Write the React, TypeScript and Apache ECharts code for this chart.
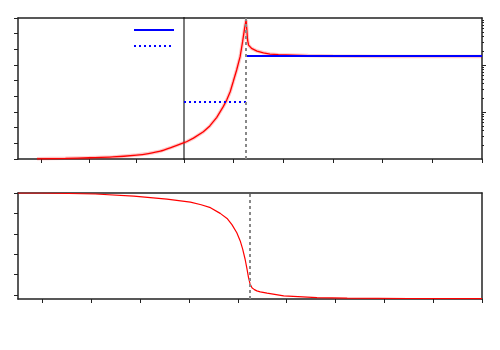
import React, { useEffect, useRef } from "react";
import * as echarts from "echarts";

// Top panel, before t = 0 (left scale)
const preT = [-3.1, -2.5, -2.0, -1.5, -1.0, -0.75, -0.5, -0.25, 0];
const preV = [0.01, 0.04, 0.08, 0.13, 0.25, 0.35, 0.5, 0.76, 1.04];
// Top panel, after t = 0 (right scale)
const postT = [0, 0.05, 0.19, 0.39, 0.52, 0.66, 0.79, 0.86, 0.93, 0.99, 1.06, 1.13, 1.18, 1.22, 1.25, 1.28, 1.3, 1.36, 1.47, 1.6, 1.73, 1.9, 2.5, 3, 4, 5, 6];
const postV = [1.04, 1.1, 1.33, 1.74, 2.11, 2.66, 3.34, 3.76, 4.29, 4.93, 5.68, 6.53, 7.49, 8.34, 8.87, 7.6, 7.27, 7.06, 6.89, 6.78, 6.7, 6.66, 6.6, 6.57, 6.55, 6.55, 6.55];
const peakT = 1.25;
const dottedLevel = 3.64;
const solidLevel = 6.57;
const topLeftTicks = [-3, -2, -1];
const topRightTicks = [0, 1, 2, 3, 4, 5, 6];
const topYTicks = [0, 1, 2, 3, 4, 5, 6, 7, 8, 9];
const logMajorTicks = [1, 10];
const logMinorTicks = [0.2, 0.3, 0.4, 0.5, 0.6, 0.7, 0.8, 0.9, 2, 3, 4, 5, 6, 7, 8, 9, 20, 30, 40, 50, 60, 70, 80, 90];

// Bottom panel
const botX = [0.5, 1.0, 2.08, 2.87, 3.55, 4.03, 4.25, 4.44, 4.64, 4.78, 4.88, 4.98, 5.05, 5.1, 5.15, 5.19, 5.22, 5.25, 5.29, 5.34, 5.39, 5.46, 5.6, 5.94, 6.62, 7.24, 8.5, 10];
const botV = [1.0, 1.0, 0.99, 0.97, 0.94, 0.91, 0.885, 0.856, 0.8, 0.75, 0.69, 0.61, 0.53, 0.45, 0.35, 0.25, 0.17, 0.11, 0.07, 0.052, 0.04, 0.03, 0.017, -0.01, -0.026, -0.032, -0.035, -0.036];
const botDash = 5.25;
const botXTicks = [1, 2, 3, 4, 5, 6, 7, 8, 9, 10];
const botYTicks = [0, 0.2, 0.4, 0.6, 0.8, 1.0];

const AX = "#222";
const pair = (xs: number[], ys: number[]) => xs.map((x, i) => [x, ys[i]]);

function lineAxis(extra: any) {
  return {
    type: "value",
    axisLine: { show: true, onZero: false, lineStyle: { color: AX, width: 1.5 } },
    axisTick: { show: false },
    axisLabel: { show: false },
    splitLine: { show: false },
    ...extra,
  };
}

export default function App() {
  const ref = useRef<HTMLDivElement>(null);
  useEffect(() => {
    if (!ref.current) return;
    const chart = echarts.init(ref.current, undefined, { renderer: "svg" });
    const tick = (vals: number[], len = 4) => ({ show: true, customValues: vals, length: len, lineStyle: { color: AX, width: 1 } });
    const option: any = {
      animation: false,
      backgroundColor: "#fff",
      grid: [
        { left: 18, top: 18, width: 166, height: 141 },
        { left: 184, top: 18, width: 298, height: 141 },
        { left: 18, top: 193, width: 464, height: 106 },
        { left: 184, top: 18, width: 298, height: 141 },
      ],
      xAxis: [
        lineAxis({ gridIndex: 0, min: -3.5, max: 0, position: "bottom", axisTick: tick(topLeftTicks) }),
        lineAxis({ gridIndex: 0, min: -3.5, max: 0, position: "top" }),
        lineAxis({ gridIndex: 1, min: 0, max: 6, position: "bottom", axisTick: tick(topRightTicks) }),
        lineAxis({ gridIndex: 1, min: 0, max: 6, position: "top" }),
        lineAxis({ gridIndex: 2, min: 0.5, max: 10, position: "bottom", axisTick: tick(botXTicks) }),
        lineAxis({ gridIndex: 2, min: 0.5, max: 10, position: "top" }),
        lineAxis({ gridIndex: 3, min: 0, max: 6, position: "bottom", axisLine: { show: false, onZero: false } }),
      ],
      yAxis: [
        lineAxis({ gridIndex: 0, min: 0, max: 9, position: "left", axisTick: tick(topYTicks) }),
        lineAxis({ gridIndex: 1, min: 0, max: 9, position: "left", axisLine: { show: true, onZero: false, lineStyle: { color: "#7a7a7a", width: 2 } } }),
        { gridIndex: 1, type: "log", logBase: 10, min: 0.1, max: 100, position: "right",
          axisLine: { show: true, onZero: false, lineStyle: { color: AX, width: 1.5 } },
          axisTick: tick(logMajorTicks, 4), axisLabel: { show: false }, splitLine: { show: false } },
        { gridIndex: 3, type: "log", logBase: 10, min: 0.1, max: 100, position: "right",
          axisLine: { show: false, onZero: false },
          axisTick: tick(logMinorTicks, 2), axisLabel: { show: false }, splitLine: { show: false } },
        lineAxis({ gridIndex: 2, min: -0.04, max: 1, position: "left", axisTick: tick(botYTicks) }),
        lineAxis({ gridIndex: 2, min: -0.04, max: 1, position: "right" }),
      ],
      graphic: [
        { type: "line", shape: { x1: 134, y1: 30, x2: 174, y2: 30 }, style: { stroke: "#0000ff", lineWidth: 2 } },
        { type: "line", shape: { x1: 134, y1: 46, x2: 173, y2: 46 }, style: { stroke: "#0000ff", lineWidth: 2, lineDash: [2, 3] } },
      ],
      series: [
        { type: "line", xAxisIndex: 0, yAxisIndex: 0, data: pair(preT, preV), symbol: "none", silent: true,
          lineStyle: { color: "#ff0000", width: 3.5, opacity: 0.22 } },
        { type: "line", xAxisIndex: 0, yAxisIndex: 0, data: pair(preT, preV), symbol: "none", smooth: 0.3,
          lineStyle: { color: "#ff0000", width: 1.3 } },
        { type: "line", xAxisIndex: 2, yAxisIndex: 1, data: pair(postT, postV), symbol: "none", silent: true,
          lineStyle: { color: "#ff0000", width: 3.5, opacity: 0.22 } },
        { type: "line", xAxisIndex: 2, yAxisIndex: 1, data: pair(postT, postV), symbol: "none",
          lineStyle: { color: "#ff0000", width: 1.3 },
          markLine: { silent: true, symbol: "none", label: { show: false },
            lineStyle: { color: "#888", width: 2, type: [3, 3] }, data: [{ xAxis: peakT }] } },
        { name: "mean", type: "line", xAxisIndex: 2, yAxisIndex: 1, symbol: "none", color: "#0000ff",
          data: [[0, dottedLevel], [peakT, dottedLevel]],
          lineStyle: { color: "#0000ff", width: 2, type: [2, 3] } },
        { name: "plateau", type: "line", xAxisIndex: 2, yAxisIndex: 1, symbol: "none", color: "#0000ff",
          data: [[peakT + 0.01, solidLevel], [6, solidLevel]],
          lineStyle: { color: "#0000ff", width: 2 } },
        { type: "line", xAxisIndex: 4, yAxisIndex: 4, data: pair(botX, botV), symbol: "none",
          lineStyle: { color: "#ff0000", width: 1.2 },
          markLine: { silent: true, symbol: "none", label: { show: false },
            lineStyle: { color: "#888", width: 2, type: [3, 3] }, data: [{ xAxis: botDash }] } },
      ],
    };
    chart.setOption(option);
    return () => chart.dispose();
  }, []);
  return <div ref={ref} style={{ position: "fixed", left: 0, top: 0, width: 500, height: 350 }} />;
}
